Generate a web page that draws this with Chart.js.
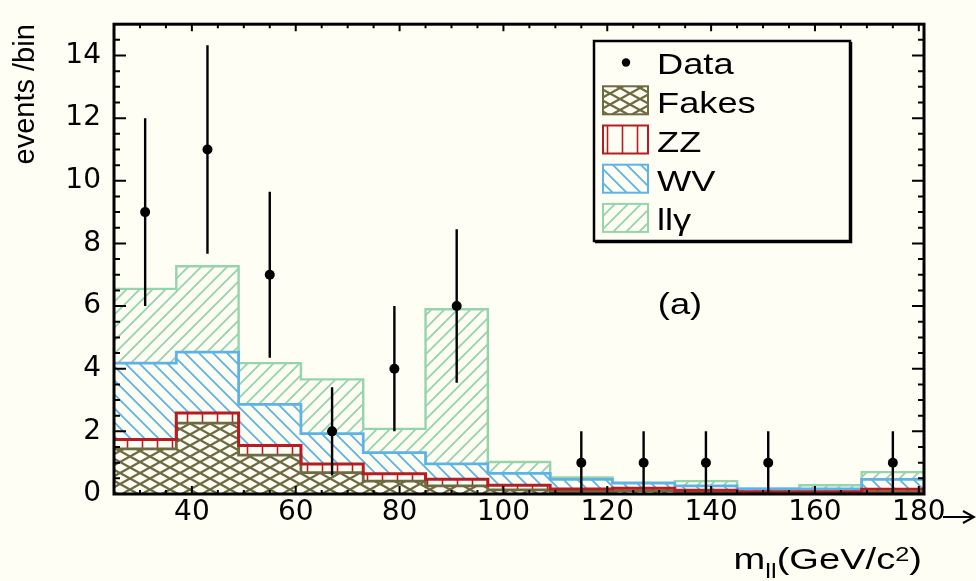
<!DOCTYPE html>
<html>
<head>
<meta charset="utf-8">
<script src="https://cdn.jsdelivr.net/npm/chart.js@4.4.0/dist/chart.umd.min.js"></script>
<style>
  html, body { margin: 0; padding: 0; background: #fefef4; }
</style>
</head>
<body>
<canvas id="myChart" width="976" height="581"></canvas>
<script>
// bins of m_ll (GeV/c^2)
const binEdges = [25, 37, 49, 61, 73, 85, 97, 109, 121, 133, 145, 157, 169, 181];
const binCenters = [31, 43, 55, 67, 79, 91, 103, 115, 127, 139, 151, 163, 175];

// stacked backgrounds, events per bin (bottom to top)
const fakes = [1.44, 2.26, 1.24, 0.68, 0.41, 0.26, 0.13, 0.08, 0.10, 0.06, 0.03, 0.03, 0.06];
const zz    = [0.30, 0.33, 0.31, 0.28, 0.24, 0.21, 0.15, 0.08, 0.08, 0.06, 0.04, 0.04, 0.09];
const wv    = [2.44, 1.94, 1.31, 0.97, 0.67, 0.49, 0.38, 0.31, 0.17, 0.14, 0.09, 0.09, 0.32];
const llg   = [2.37, 2.74, 1.32, 1.73, 0.76, 4.94, 0.36, 0.06, 0.01, 0.15, 0.01, 0.12, 0.23];

// data points with errors
const dataX   = [31, 43, 55, 67, 79, 91, 115, 127, 139, 151, 175];
const dataY   = [9, 11, 7, 2, 4, 6, 1, 1, 1, 1, 1];
const dataErr = [3, 3.33, 2.65, 1.41, 2, 2.45, 1, 1, 1, 1, 1];

const xTicks = [40, 60, 80, 100, 120, 140, 160, 180];
const yTicks = [0, 2, 4, 6, 8, 10, 12, 14];
const seriesNames = ['Fakes', 'ZZ', 'WV', 'll\u03b3'];

const BG = '#fefef4';
const colors = { fakes: '#6e6a42', zz: '#b41e23', wv: '#5fb2e6', llg: '#96d4ac' };

function hatch(color, lw, w, h, draw) {
  const c = document.createElement('canvas');
  c.width = w; c.height = h;
  const g = c.getContext('2d');
  g.strokeStyle = color; g.lineWidth = lw;
  g.beginPath(); draw(g, w, h); g.stroke();
  return g.createPattern(c, 'repeat');
}

const patFakes = hatch(colors.fakes, 2.3, 20, 11, (g, w, h) => {
  g.moveTo(0, 0); g.lineTo(w, h);
  g.moveTo(0, h); g.lineTo(w, 0);
});
const patZZ = hatch(colors.zz, 1.6, 15, 15, (g, w, h) => {
  g.moveTo(w / 2, 0); g.lineTo(w / 2, h);
});
const patWV = hatch(colors.wv, 1.8, 14, 14, (g, w, h) => {
  g.moveTo(0, 0); g.lineTo(w, h);
  g.moveTo(-w / 2, h / 2); g.lineTo(w / 2, h * 1.5);
  g.moveTo(w / 2, -h / 2); g.lineTo(w * 1.5, h / 2);
});
const patLLG = hatch(colors.llg, 1.8, 13, 13, (g, w, h) => {
  g.moveTo(0, h); g.lineTo(w, 0);
  g.moveTo(-w / 2, h / 2); g.lineTo(w / 2, -h / 2);
  g.moveTo(w / 2, h * 1.5); g.lineTo(w * 1.5, h / 2);
});

function cumulative(...arrs) {
  return arrs[0].map((_, i) => arrs.reduce((s, a) => s + a[i], 0));
}
const topFakes = cumulative(fakes);
const topZZ = cumulative(fakes, zz);
const topWV = cumulative(fakes, zz, wv);
const topLLG = cumulative(fakes, zz, wv, llg);

function barSet(label, values, pattern) {
  return {
    type: 'bar', label: label,
    data: binCenters.map((x, i) => ({ x: x, y: values[i] })),
    backgroundColor: pattern, borderWidth: 0,
    barPercentage: 1, categoryPercentage: 1, order: 5
  };
}

// histogram outline as a step line over the bin edges
function outline(tops, color, lw, order, key) {
  const pts = tops.map((v, i) => ({ x: binEdges[i], y: v }));
  pts.push({ x: binEdges[binEdges.length - 1], y: tops[tops.length - 1] });
  return {
    type: 'line', data: pts, stepped: 'before', borderColor: color, borderWidth: lw,
    pointRadius: 0, fill: false, order: order, stack: key
  };
}

const dataSet = {
  type: 'line', label: 'Data',
  data: dataX.map((x, i) => ({ x: x, y: dataY[i] })),
  showLine: false, pointRadius: 5, pointBackgroundColor: '#000',
  pointBorderColor: '#000', pointBorderWidth: 0, order: 1, stack: 'data'
};

const errorBars = {
  id: 'errorBars',
  beforeDatasetDraw(chart, args) {
    if (chart.data.datasets[args.index] !== dataSet) return;
    const { ctx, scales: { x, y } } = chart;
    ctx.save();
    ctx.strokeStyle = '#000'; ctx.lineWidth = 2.4;
    ctx.beginPath();
    dataX.forEach((v, i) => {
      const px = x.getPixelForValue(v);
      ctx.moveTo(px, y.getPixelForValue(dataY[i] - dataErr[i]));
      ctx.lineTo(px, y.getPixelForValue(dataY[i] + dataErr[i]));
    });
    ctx.stroke();
    ctx.restore();
  }
};

const background = {
  id: 'background',
  beforeDraw(chart) {
    const ctx = chart.ctx;
    ctx.save();
    ctx.fillStyle = BG;
    ctx.fillRect(0, 0, chart.width, chart.height);
    ctx.restore();
  }
};

// ROOT style frame with ticks on all four sides
const frame = {
  id: 'frame',
  afterDatasetsDraw(chart) {
    const { ctx, chartArea: a, scales: { x, y } } = chart;
    ctx.save();
    ctx.strokeStyle = '#000';
    ctx.lineWidth = 2;
    ctx.beginPath();
    for (let v = 30; v <= 180; v += 5) {
      const px = x.getPixelForValue(v);
      const major = v % 20 === 0;
      ctx.moveTo(px, a.bottom); ctx.lineTo(px, a.bottom - (major ? 8 : 4));
      ctx.moveTo(px, a.top); ctx.lineTo(px, a.top + (major ? 7 : 4));
    }
    for (let v = 0.5; v < 15; v += 0.5) {
      const py = y.getPixelForValue(v);
      const major = v % 2 === 0;
      ctx.moveTo(a.left, py); ctx.lineTo(a.left + (major ? 12 : 6), py);
      ctx.moveTo(a.right, py); ctx.lineTo(a.right - (major ? 12 : 6), py);
    }
    ctx.stroke();
    ctx.lineWidth = 3;
    ctx.strokeRect(a.left, a.top, a.right - a.left, a.bottom - a.top);
    ctx.restore();
  }
};

// stretched helvetica-like text
function wideText(ctx, str, x, y, size, sx, align) {
  ctx.save();
  ctx.font = size + 'px "Liberation Sans", Arial, sans-serif';
  const w = ctx.measureText(str).width * sx;
  let x0 = x;
  if (align === 'center') x0 = x - w / 2;
  if (align === 'right') x0 = x - w;
  ctx.translate(x0, y);
  ctx.scale(sx, 1);
  ctx.fillStyle = '#000';
  ctx.textBaseline = 'alphabetic';
  ctx.fillText(str, 0, 0);
  ctx.restore();
  return w;
}

const annotations = {
  id: 'annotations',
  afterDraw(chart) {
    const ctx = chart.ctx;
    const bars = chart.data.datasets.filter(d => d.type === 'bar');
    const borders = [colors.fakes, colors.zz, colors.wv, colors.llg];

    // legend box
    ctx.save();
    ctx.fillStyle = BG;
    ctx.fillRect(594, 41, 256, 200);
    ctx.strokeStyle = '#000';
    ctx.lineWidth = 2.5;
    ctx.strokeRect(594, 41, 256, 200);
    ctx.lineWidth = 1.5;
    ctx.beginPath();
    ctx.moveTo(851.5, 42); ctx.lineTo(851.5, 242.5); ctx.lineTo(595, 242.5);
    ctx.stroke();

    const rowBase = 73.5, rowStep = 39.2;
    ctx.fillStyle = '#000';
    ctx.beginPath();
    ctx.arc(626, rowBase - 11, 4.2, 0, Math.PI * 2);
    ctx.fill();
    wideText(ctx, 'Data', 657, rowBase, 29, 1.25, 'left');

    bars.forEach((d, i) => {
      const base = rowBase + (i + 1) * rowStep;
      const top = base - 12.4 - 14;
      ctx.fillStyle = BG;
      ctx.fillRect(603, top, 45, 28);
      ctx.fillStyle = d.backgroundColor;
      ctx.fillRect(603, top, 45, 28);
      ctx.strokeStyle = borders[i];
      ctx.lineWidth = 2;
      ctx.strokeRect(603, top, 45, 28);
      wideText(ctx, seriesNames[i], 657, base, 29, 1.25, 'left');
    });

    // panel label
    wideText(ctx, '(a)', 680, 314, 29, 1.25, 'center');

    // x axis title m_ll(GeV/c^2), right aligned
    const parts = [['m', 30, 0], ['ll', 20, 9], ['(GeV/c', 30, 0], ['2', 20, -8.5], [')', 30, 0]];
    const sx = 1.27;
    let total = 0;
    parts.forEach(p => {
      ctx.font = p[1] + 'px "Liberation Sans", Arial, sans-serif';
      total += ctx.measureText(p[0]).width * sx;
    });
    let cx = 922 - total;
    parts.forEach(p => {
      cx += wideText(ctx, p[0], cx, 569 + p[2], p[1], sx, 'left');
    });

    // axis arrow after the last label
    ctx.strokeStyle = '#000';
    ctx.lineWidth = 2;
    ctx.beginPath();
    ctx.moveTo(943, 517); ctx.lineTo(974, 517);
    ctx.moveTo(963, 511); ctx.lineTo(974, 517); ctx.lineTo(963, 523);
    ctx.stroke();
    ctx.restore();
  }
};

const tickFont = { family: '"DejaVu Sans", sans-serif', size: 28, lineHeight: 0.8 };

const config = {
  type: 'bar',
  data: {
    datasets: [
      barSet(seriesNames[0], fakes, patFakes),
      barSet(seriesNames[1], zz, patZZ),
      barSet(seriesNames[2], wv, patWV),
      barSet(seriesNames[3], llg, patLLG),
      outline(topLLG, colors.llg, 2.4, 2.4, 'o4'),
      outline(topWV, colors.wv, 2.8, 2.3, 'o3'),
      outline(topFakes, colors.fakes, 2.8, 2.2, 'o1'),
      outline(topZZ, colors.zz, 3, 2.1, 'o2'),
      dataSet
    ]
  },
  options: {
    responsive: false,
    animation: false,
    layout: { padding: { top: 13, right: 52, left: 0, bottom: 0 } },
    plugins: {
      legend: { display: false },
      tooltip: { enabled: false }
    },
    scales: {
      x: {
        type: 'linear', min: 25, max: 181, offset: false, stacked: true,
        grid: { display: false, drawTicks: false },
        border: { display: false },
        afterBuildTicks(scale) { scale.ticks = xTicks.map(v => ({ value: v })); },
        afterFit(scale) { scale.height = 87; },
        ticks: { color: '#000', font: tickFont, padding: 8, maxRotation: 0, autoSkip: false }
      },
      y: {
        type: 'linear', min: 0, max: 15, stacked: true,
        grid: { display: false, drawTicks: false },
        border: { display: false },
        afterBuildTicks(scale) { scale.ticks = yTicks.map(v => ({ value: v })); },
        afterFit(scale) { scale.width = 114; },
        ticks: { color: '#000', font: tickFont, padding: 13 },
        title: {
          display: true, text: 'events /bin', align: 'end', color: '#000',
          font: { family: '"Liberation Sans", Arial, sans-serif', size: 29 },
          padding: { top: 9, bottom: 0 }
        }
      }
    }
  },
  plugins: [background, errorBars, frame, annotations]
};

const myChart = new Chart(document.getElementById('myChart'), config);
</script>
</body>
</html>
